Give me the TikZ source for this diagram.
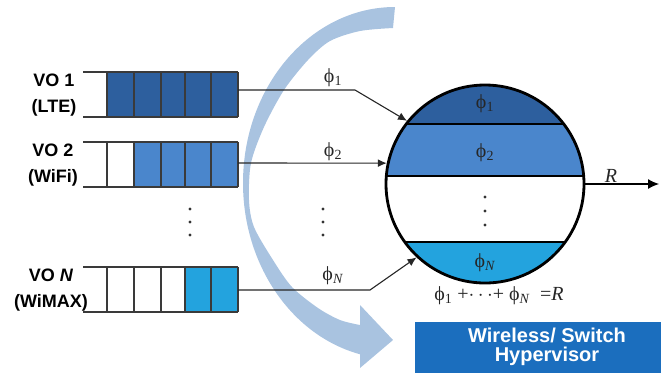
\documentclass[tikz,border=0pt]{standalone}
\usepackage{fontspec}
\setmainfont{Liberation Sans}
\newfontfamily\serif{Liberation Serif}
\usetikzlibrary{arrows.meta}
\definecolor{cdark}{HTML}{2D5F9E}
\definecolor{cmed}{HTML}{4A86CC}
\definecolor{ccyan}{HTML}{23A3DE}
\definecolor{arcblue}{HTML}{A9C3E0}
\definecolor{boxblue}{HTML}{1B6EBE}
\definecolor{qgray}{HTML}{3A3A3A}
\newcommand\ph{ϕ}
\begin{document}
\begin{tikzpicture}[x=1pt,y=-1pt,
  conn/.style={line width=1.1pt, draw=black!85, -{Latex[length=9pt,width=8pt]}},
  qline/.style={line width=1.4pt, draw=qgray},
  lbl/.style={font=\bfseries\fontsize{18}{26}\selectfont, align=center, inner sep=0pt},
  phl/.style={font=\serif\fontsize{20}{22}\selectfont, inner sep=0pt, text=black!85},
  dotc/.style={fill=black!80}]
\useasboundingbox (0,0) rectangle (663,376);
% big curved arrow
\fill[arcblue] (395,7) arc[start angle=-90, end angle=-256.7, x radius=152, y radius=176]
  -- (360,368) -- (393,340) -- (360,305) -- (360,325)
  -- plot[smooth] coordinates {(360,325) (340,320) (318,308) (292,287) (273,260) (254,227) (249,200) (251,163) (264,127) (284,90) (308,60) (330,41) (360,31) (393,28)}
  -- cycle;
% queues
\foreach \T/\first/\col in {72/107/cdark, 142/134/cmed, 267/185/ccyan}{
  \fill[\col] (\first,\T) rectangle (238,\T+45);
  \draw[qline] (83,\T) -- (238,\T);
  \draw[qline] (83,\T+45) -- (238,\T+45);
  \foreach \x in {107,134,161,185,211,238}{\draw[qline] (\x,\T) -- (\x,\T+45);}
}
\node[minimum width=131pt, minimum height=45pt, inner sep=0pt] (q1) at (172.5,94.5) {};
\node[minimum width=131pt, minimum height=45pt, inner sep=0pt] (q2) at (172.5,164.5) {};
\node[minimum width=131pt, minimum height=45pt, inner sep=0pt] (qn) at (172.5,289.5) {};
% queue labels
\node[lbl] (l1) at (54,95) {VO 1\\(LTE)};
\node[lbl] (l2) at (53,165) {VO 2\\(WiFi)};
\node[lbl] (ln) at (51,290) {VO \textit{N}\\(WiMAX)};
% dots
\foreach \y in {209,222,235}{\fill[dotc] (190,\y) circle[radius=1.6];}
\foreach \y in {209,222,235}{\fill[dotc] (323,\y) circle[radius=1.6];}
% circle (server)
\begin{scope}
  \clip (485,184) circle[radius=99];
  \fill[cdark] (380,80) rectangle (590,124);
  \fill[cmed] (380,124) rectangle (590,176);
  \fill[ccyan] (380,242) rectangle (590,290);
  \draw[line width=2pt] (380,124) -- (590,124);
  \draw[line width=2pt] (380,176) -- (590,176);
  \draw[line width=2pt] (380,242) -- (590,242);
\end{scope}
\node[circle, draw, line width=2.8pt, minimum size=198pt, inner sep=0pt] (c) at (485,184) {};
\node[phl] (c1) at (485,104) {\ph\textsubscript{1}};
\node[phl] (c2) at (485,153) {\ph\textsubscript{2}};
\node[phl] (cn) at (485,263) {\ph\textsubscript{\textit{N}}};
\foreach \y in {197,211,225}{\fill[dotc] (485,\y) circle[radius=1.6];}
% connectors
\draw[conn] ([yshift=4.5pt]q1.east) -- (355,90) -- (c.141);
\draw[conn] ([yshift=1.5pt]q2.east) -- (c.168);
\draw[conn] ([yshift=-0.5pt]qn.east) -- (370,290) -- (c.227);
\node[phl] (p1) at (333,78) {\ph\textsubscript{1}};
\node[phl] (p2) at (333,152) {\ph\textsubscript{2}};
\node[phl] (pn) at (333,276) {\ph\textsubscript{\textit{N}}};
% output
\coordinate (rend) at (659,184);
\draw[line width=1.1pt, -{Latex[length=11pt,width=10pt]}] (c.east) -- (rend);
\node[phl] (rl) at (611,176) {\textit{R}};
% equation
\node[phl] (eq) at (499,296) {\ph\textsubscript{1} +$\cdots$+ \ph\textsubscript{\textit{N}} \ =\textit{R}};
% hypervisor box
\node[fill=boxblue, minimum width=246pt, minimum height=51pt, inner sep=0pt] (hv) at (538,347.5) {};
\node[font=\bfseries\fontsize{20}{19}\selectfont, text=white, align=center, inner sep=0pt] (hvt) at (547,347) {Wireless/ Switch\\Hypervisor};
\end{tikzpicture}
\end{document}
